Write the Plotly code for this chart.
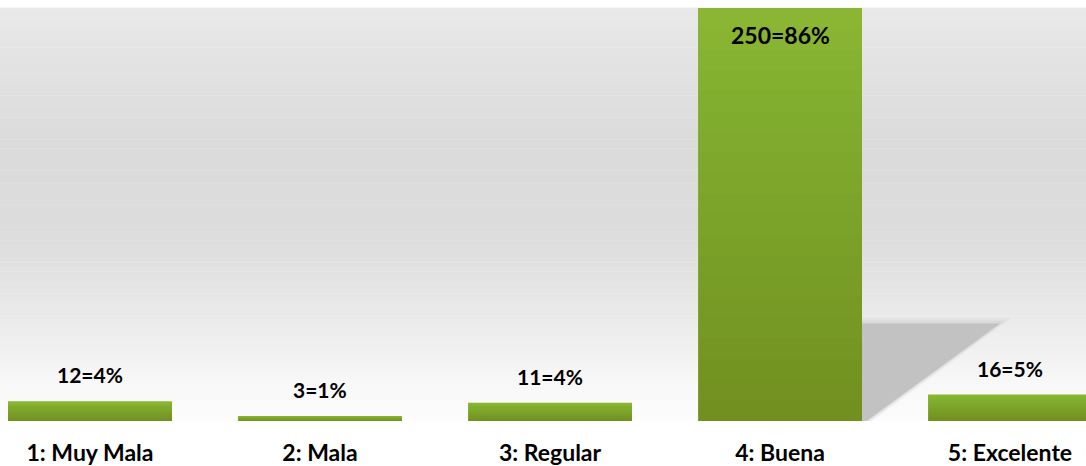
import plotly.graph_objects as go

categories = ["1: Muy Mala", "2: Mala", "3: Regular", "4: Buena", "5: Excelente"]
counts = [12, 3, 11, 250, 16]
percents = [4, 1, 4, 86, 5]

W, H = 1086, 466
BAR_TOP = "#8cb834"
FONT = "Lato"

fig = go.Figure()

# base bars
fig.add_trace(go.Bar(x=categories, y=counts, marker=dict(color=BAR_TOP, line=dict(width=0)),
                     hoverinfo="skip", showlegend=False))
# darkening layers to mimic vertical gradient
N = 20
for k in range(1, N + 1):
    fig.add_trace(go.Bar(x=categories, y=[c * k / N for c in counts],
                         marker=dict(color="rgba(0,0,0,0.0085)", line=dict(width=0)),
                         hoverinfo="skip", showlegend=False))

# background gradient (paper strips)
stops = [(0, 233), (60, 227), (150, 219), (250, 220), (320, 229), (370, 238), (410, 245), (424, 248), (466, 252)]
def gray_at(py):
    for (y0, g0), (y1, g1) in zip(stops[:-1], stops[1:]):
        if y0 <= py <= y1:
            t = (py - y0) / (y1 - y0)
            return g0 + (g1 - g0) * t
    return stops[-1][1]

shapes = []
n_strips = 94
for i in range(n_strips):
    y0 = H * i / n_strips
    y1 = H * (i + 1) / n_strips
    g = int(round(gray_at((y0 + y1) / 2)))
    shapes.append(dict(type="rect", xref="paper", yref="paper", x0=0, x1=1,
                       y0=1 - y1 / H, y1=1 - y0 / H + 0.001, layer="below",
                       line=dict(width=0), fillcolor=f"rgb({g},{g},{g})"))

# perspective shadow behind the tallest bar
half = 0.713 / 2
imax = counts.index(max(counts))
xr = imax + half
h = 0.236 * counts[imax]
for grow, op in [(0.024, 0.18), (0.012, 0.3), (0.0, 1.0)]:
    gy = grow * 140
    path = (f"M {xr},{0} L {xr},{h + gy} L {xr + 0.6 + grow * 2},{h + gy} "
            f"L {xr + 0.02 + grow},{0} Z")
    shapes.append(dict(type="path", xref="x", yref="y", path=path, layer="below",
                       line=dict(width=0), fillcolor="rgb(194,194,194)", opacity=op))

fig.update_layout(shapes=shapes)

# value labels
for i, (cat, c, p) in enumerate(zip(categories, counts, percents)):
    txt = f"{c}={p}%"
    if i == imax:
        fig.add_annotation(x=i, y=c, text=txt, showarrow=False, yanchor="top", yshift=-11,
                           font=dict(family=FONT, size=23, color="black", weight="bold"))
    else:
        fig.add_annotation(x=i, y=c, text=txt, showarrow=False, yanchor="bottom", yshift=12,
                           font=dict(family=FONT, size=21, color="black", weight="bold"))

x0 = -90 / 230
fig.update_layout(
    width=W, height=H,
    margin=dict(l=0, r=0, t=8, b=42),
    barmode="overlay",
    bargap=0.287,
    paper_bgcolor="white",
    plot_bgcolor="rgba(0,0,0,0)",
    showlegend=False,
    xaxis=dict(range=[x0, x0 + W / 230], showgrid=False, zeroline=False, showline=False,
               ticks="", ticklabelstandoff=16,
               tickfont=dict(family=FONT, size=23, color="black", weight="bold")),
    yaxis=dict(range=[0, 250], showgrid=False, zeroline=False, showline=False,
               showticklabels=False, ticks=""),
)

fig.write_html("out.html")
